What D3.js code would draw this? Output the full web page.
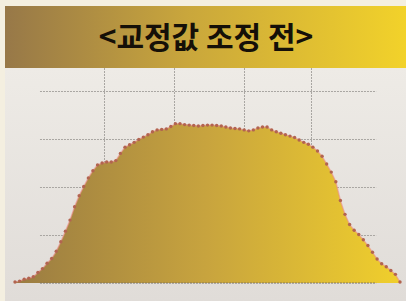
<!DOCTYPE html>
<html>
<head>
<meta charset="utf-8">
<script src="https://cdn.jsdelivr.net/npm/d3@7"></script>
<style>
  html, body { margin: 0; padding: 0; background: #f4efe0; }
  svg { display: block; }
</style>
</head>
<body>
<div id="chart"></div>
<script>
// chart size
var w = 406;
var h = 301;

var title = "<교정값 조정 전>";

// values, one per marker (index 0..84)
var values = [2, 4, 8, 10, 13, 22, 30, 41, 51, 66,
              86, 108, 131, 159, 182, 201, 219, 234, 246, 250,
              252, 252, 255, 270, 283, 288, 293, 299, 304, 309,
              315, 319, 320, 321, 326, 332, 332, 330, 329, 328,
              327, 328, 329, 329, 328, 327, 325, 323, 322, 321,
              319, 317, 319, 323, 325, 325, 319, 315, 312, 309,
              306, 303, 298, 293, 289, 283, 275, 264, 248, 231,
              211, 172, 143, 122, 110, 101, 90, 78, 64, 50,
              40, 34, 26, 18, 2];

var yTicks = [0, 100, 200, 300, 400];
var xTicks = [19.4, 34.7, 50, 64.6];   // vertical grid positions (index units)
var gridExtent = [5.45, 78.8];        // horizontal grid span (index units)

var svg = d3.select("#chart")
            .append("svg")
            .attr("width", w)
            .attr("height", h);

var defs = svg.append("defs");

var bannerGrad = defs.append("linearGradient").attr("id", "bannerGrad");
bannerGrad.append("stop").attr("offset", "0%").attr("stop-color", "#977848");
bannerGrad.append("stop").attr("offset", "45%").attr("stop-color", "#c9a63c");
bannerGrad.append("stop").attr("offset", "100%").attr("stop-color", "#f2d22a");

var panelGrad = defs.append("linearGradient").attr("id", "panelGrad")
                    .attr("x1", 0).attr("y1", 0).attr("x2", 0).attr("y2", 1);
panelGrad.append("stop").attr("offset", "0%").attr("stop-color", "#eeebe6");
panelGrad.append("stop").attr("offset", "100%").attr("stop-color", "#e0dcd8");

var areaGrad = defs.append("linearGradient").attr("id", "areaGrad");
areaGrad.append("stop").attr("offset", "0%").attr("stop-color", "#9a7c42");
areaGrad.append("stop").attr("offset", "50%").attr("stop-color", "#c8a43e");
areaGrad.append("stop").attr("offset", "100%").attr("stop-color", "#f0cf2c");

// panel + banner
svg.append("rect")
   .attr("x", 5).attr("y", 68)
   .attr("width", w - 5).attr("height", h - 68)
   .attr("fill", "url(#panelGrad)");

var x = d3.scaleLinear()
          .domain([0, values.length - 1])
          .range([15, 400]);

var y = d3.scaleLinear()
          .domain([0, 500])
          .range([283, 43]);

// grid
var grid = svg.append("g").attr("stroke", "#a9a6a2").attr("stroke-width", 1)
              .attr("stroke-dasharray", "2,1").attr("fill", "none");

grid.selectAll("line.h")
    .data(yTicks)
    .enter()
    .append("line")
    .attr("class", "h")
    .attr("x1", x(gridExtent[0]))
    .attr("x2", x(gridExtent[1]))
    .attr("y1", function (d) { return y(d) + 0.5; })
    .attr("y2", function (d) { return y(d) + 0.5; });

grid.selectAll("line.v")
    .data(xTicks)
    .enter()
    .append("line")
    .attr("class", "v")
    .attr("x1", function (d) { return Math.round(x(d)) + 0.5; })
    .attr("x2", function (d) { return Math.round(x(d)) + 0.5; })
    .attr("y1", 68)
    .attr("y2", y(0));

// area
var area = d3.area()
             .x(function (d, i) { return x(i); })
             .y0(y(0))
             .y1(function (d) { return y(d); });

svg.append("path")
   .datum(values)
   .attr("d", area)
   .attr("fill", "url(#areaGrad)");

// faint baseline dots across the bottom of the area
svg.append("line")
   .attr("x1", x(gridExtent[0])).attr("x2", x(gridExtent[1]))
   .attr("y1", y(0) - 0.5).attr("y2", y(0) - 0.5)
   .attr("stroke", "#8c7a50").attr("stroke-dasharray", "2,1").attr("opacity", 0.5);

var line = d3.line()
             .x(function (d, i) { return x(i); })
             .y(function (d) { return y(d); });

svg.append("path")
   .datum(values)
   .attr("d", line)
   .attr("fill", "none")
   .attr("stroke", "#ee8e8a")
   .attr("stroke-width", 1.4)
   .attr("opacity", 0.6);

svg.append("g")
   .selectAll("circle")
   .data(values)
   .enter()
   .append("circle")
   .attr("cx", function (d, i) { return x(i); })
   .attr("cy", function (d) { return y(d); })
   .attr("r", 1.7)
   .attr("fill", "#b26450");

// title banner
svg.append("rect")
   .attr("x", 5).attr("y", 6)
   .attr("width", w - 5).attr("height", 62)
   .attr("fill", "url(#bannerGrad)");

svg.append("text")
   .attr("x", 206)
   .attr("y", 48)
   .attr("text-anchor", "middle")
   .attr("font-family", "'Noto Sans CJK KR', sans-serif")
   .attr("font-weight", 700)
   .attr("font-size", 30)
   .attr("fill", "#151008")
   .text(title);
</script>
</body>
</html>
